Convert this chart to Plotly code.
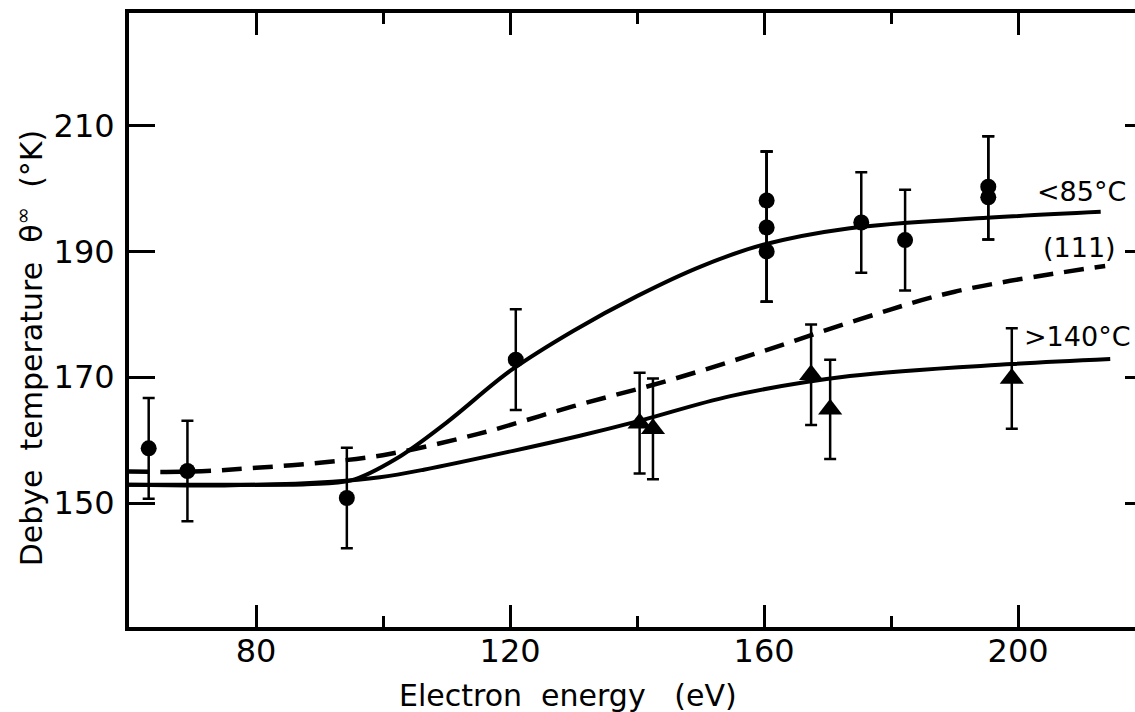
import plotly.graph_objects as go

# Measured points, <85 °C anneal (circles); points sharing an energy share one error bar
circ_e = [63.1, 69.2, 94.3, 120.9, 160.4, 160.4, 160.4, 175.3, 182.2, 195.3, 195.3]
circ_t = [158.7, 155.1, 150.8, 172.8, 198.1, 193.8, 190.0, 194.6, 191.8, 200.3, 198.6]
circ_err_plus = [8, 8, 8, 8, 7.8, 12.1, 15.9, 8, 8, 8, 9.7]
circ_err_minus = [8, 8, 8, 8, 16.1, 11.8, 8, 8, 8, 8.4, 6.7]

# Measured points, >140 °C anneal (triangles)
tri_e = [140.4, 142.5, 167.4, 170.4, 199.0]
tri_t = [162.7, 161.8, 170.4, 164.9, 169.8]
tri_err = [8, 8, 8, 7.9, 8]

# Smooth curve through the <85 °C data
low_e = [60, 75, 88, 95, 102, 110, 120, 130, 140, 150, 160, 173.5, 194.5, 213]
low_t = [152.9, 152.9, 153.0, 153.6, 157.0, 162.8, 171.0, 177.4, 182.9, 187.6, 191.1,
         193.7, 195.3, 196.3]

# Smooth curve through the >140 °C data
high_e = [60, 75, 92, 99.5, 106.4, 120.5, 131, 140.5, 154.7, 173.5, 199, 214.5]
high_t = [152.9, 152.8, 153.4, 154.1, 155.3, 158.3, 160.7, 163.1, 167.0, 170.2, 172.1, 172.9]

# (111) reference curve (dashed)
ref_e = [60, 70, 80, 92, 101, 115, 130, 145, 160, 175, 190, 213.7]
ref_t = [155.0, 155.0, 155.6, 156.6, 157.8, 161.0, 165.4, 169.5, 174.2, 179.2, 183.6, 187.7]

x_ticks = [80, 120, 160, 200]
y_ticks = [150, 170, 190, 210]

FONT = "DejaVu Sans"
INK = "black"

fig = go.Figure()

fig.add_trace(go.Scatter(x=low_e, y=low_t, mode="lines", line=dict(color=INK, width=4, shape="spline"),
                         showlegend=False, hoverinfo="skip"))
fig.add_trace(go.Scatter(x=high_e, y=high_t, mode="lines", line=dict(color=INK, width=4, shape="spline"),
                         showlegend=False, hoverinfo="skip"))
fig.add_trace(go.Scatter(x=ref_e, y=ref_t, mode="lines",
                         line=dict(color=INK, width=4.5, shape="spline", dash="20px,11px"),
                         showlegend=False, hoverinfo="skip"))

fig.add_trace(go.Scatter(
    x=circ_e, y=circ_t, mode="markers",
    marker=dict(symbol="circle", size=16, color=INK),
    error_y=dict(type="data", symmetric=False, array=circ_err_plus, arrayminus=circ_err_minus,
                 color=INK, thickness=2.5, width=6),
    showlegend=False))

fig.add_trace(go.Scatter(
    x=tri_e, y=tri_t, mode="markers",
    marker=dict(symbol="triangle-up", size=21, color=INK),
    error_y=dict(type="data", array=tri_err, color=INK, thickness=2.5, width=6),
    showlegend=False))

# Empty trace on the right-hand axis so its tick stubs are drawn
fig.add_trace(go.Scatter(x=[], y=[], yaxis="y2", showlegend=False, hoverinfo="skip"))

# Curve labels
labels = [("<85°C", 202.6, 199.5, 27), ("(111)", 203.6, 190.6, 27), (">140°C", 200.6, 176.5, 27)]
for txt, lx, ly, fs in labels:
    fig.add_annotation(x=lx, y=ly, text=txt, showarrow=False, xanchor="left", yanchor="middle",
                       font=dict(family=FONT, size=fs, color=INK))

# Axis titles
fig.add_annotation(xref="paper", x=0, xshift=-99, y=174.6, yref="y",
                   text="Debye\u00a0\u00a0temperature\u00a0\u00a0θ<sup>∞</sup>\u00a0\u00a0(°K)",
                   textangle=-90, showarrow=False, xanchor="center", yanchor="middle",
                   font=dict(family=FONT, size=30, color=INK))
fig.add_annotation(x=129.1, xref="x", yref="paper", y=0, yshift=-68,
                   text="Electron\u00a0\u00a0energy\u00a0\u00a0\u00a0(eV)",
                   showarrow=False, xanchor="center", yanchor="middle",
                   font=dict(family=FONT, size=30, color=INK))

fig.update_layout(
    width=1135, height=712,
    margin=dict(l=129, r=0, t=13, b=85),
    paper_bgcolor="white", plot_bgcolor="white",
    font=dict(family=FONT, color=INK),
    xaxis=dict(
        range=[60, 218.4], tickvals=x_ticks, ticks="inside", ticklen=22, tickwidth=2.5,
        tickcolor=INK, showline=True, linewidth=3.5, linecolor=INK, mirror="ticks",
        showgrid=False, zeroline=False, automargin=False,
        minor=dict(ticks="inside", ticklen=11, tickwidth=2.5, tickcolor=INK, tickvals=[100, 140, 180]),
        tickfont=dict(family=FONT, size=32, color=INK), ticklabelstandoff=-7,
    ),
    yaxis=dict(
        range=[130.3, 227.9], tickvals=y_ticks, ticks="inside", ticklen=26, tickwidth=2.5,
        tickcolor=INK, showline=True, linewidth=4, linecolor=INK, mirror=False,
        showgrid=False, zeroline=False, automargin=False,
        tickfont=dict(family=FONT, size=32, color=INK), ticklabelstandoff=4,
    ),
    yaxis2=dict(
        overlaying="y", side="right", range=[130.3, 227.9], tickvals=y_ticks,
        ticks="inside", ticklen=10, tickwidth=2.5, tickcolor=INK,
        showticklabels=False, showline=False, showgrid=False, zeroline=False, automargin=False,
    ),
)

fig.write_html("out.html")
